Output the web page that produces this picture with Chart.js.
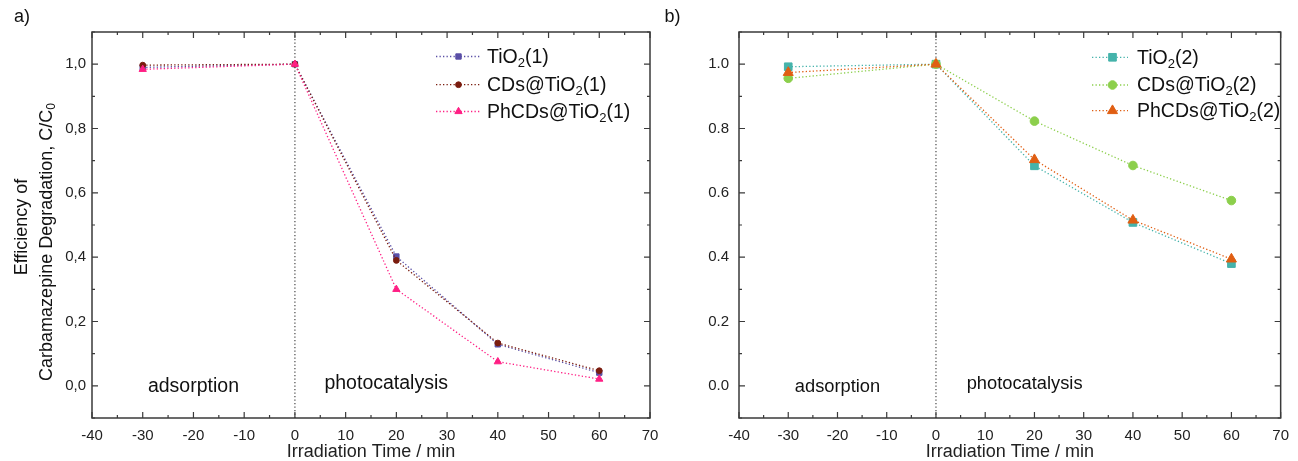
<!DOCTYPE html>
<html><head><meta charset="utf-8">
<script src="https://cdn.jsdelivr.net/npm/chart.js@4.4.1/dist/chart.umd.min.js"></script>
<style>
html,body{margin:0;padding:0;background:#fff;overflow:hidden}
#wrap{position:relative;width:1298px;height:461px;background:#fff}
#ca{position:absolute;left:0;top:0}
#cb{position:absolute;left:655px;top:0}
</style></head><body>
<div id="wrap"><canvas id="ca" width="700" height="461"></canvas><canvas id="cb" width="643" height="461"></canvas></div>
<script>
// ---------- data ----------
const timeMin = [-30, 0, 20, 40, 60];
const xTickValues = [-40, -30, -20, -10, 0, 10, 20, 30, 40, 50, 60, 70];
const yTickValues = [0, 0.2, 0.4, 0.6, 0.8, 1.0];

const seriesNamesA = ['TiO₂(1)', 'CDs@TiO₂(1)', 'PhCDs@TiO₂(1)'];
const tio2_1  = [0.990, 1.0, 0.402, 0.129, 0.041];
const cds_1   = [0.997, 1.0, 0.390, 0.133, 0.047];
const phcds_1 = [0.984, 1.0, 0.300, 0.075, 0.021];

const seriesNamesB = ['TiO₂(2)', 'CDs@TiO₂(2)', 'PhCDs@TiO₂(2)'];
const tio2_2  = [0.992, 1.0, 0.684, 0.508, 0.380];
const cds_2   = [0.956, 1.0, 0.823, 0.685, 0.576];
const phcds_2 = [0.974, 1.0, 0.703, 0.515, 0.394];

const xTitle = 'Irradiation Time / min';
const yTitleLines = ['Efficiency of', 'Carbamazepine Degradation, C/C₀'];
const regionLabels = ['adsorption', 'photocatalysis'];
const panelLabels = ['a)', 'b)'];

// ---------- helpers ----------
const FAMILY = '"Liberation Sans", Arial, Helvetica, sans-serif';
Chart.defaults.font.family = FAMILY;
const SUB = {'₀':'0','₁':'1','₂':'2','₃':'3','₄':'4','₅':'5','₆':'6','₇':'7','₈':'8','₉':'9'};
function drawRich(ctx, text, x, y, size, align) {
  const runs = []; let cur = '', curSub = false;
  for (const ch of text) {
    const s = ch in SUB;
    if (s !== curSub && cur) { runs.push([cur, curSub]); cur = ''; }
    curSub = s; cur += s ? SUB[ch] : ch;
  }
  if (cur) runs.push([cur, curSub]);
  const fMain = size + 'px ' + FAMILY, fSub = Math.round(size * 0.68) + 'px ' + FAMILY;
  let total = 0;
  for (const [t, s] of runs) { ctx.font = s ? fSub : fMain; total += ctx.measureText(t).width; }
  let cx = align === 'center' ? x - total / 2 : (align === 'right' ? x - total : x);
  ctx.textAlign = 'left'; ctx.textBaseline = 'middle';
  for (const [t, s] of runs) {
    ctx.font = s ? fSub : fMain;
    ctx.fillText(t, cx, s ? y + size * 0.3 : y);
    cx += ctx.measureText(t).width;
  }
}

const decorPlugin = {
  id: 'panelDecor',
  beforeDatasetsDraw(chart, args, o) {
    const {ctx, chartArea: a, scales: {x}} = chart;
    const x0 = x.getPixelForValue(0);
    ctx.save();
    ctx.strokeStyle = '#555'; ctx.lineWidth = 1.3; ctx.setLineDash([1.3, 2.2]);
    ctx.beginPath(); ctx.moveTo(x0, a.top); ctx.lineTo(x0, a.bottom); ctx.stroke();
    ctx.restore();
  },
  afterDatasetsDraw(chart, args, o) {
    const {ctx, chartArea: a, scales: {x, y}} = chart;
    ctx.save();
    // frame
    ctx.strokeStyle = '#3a3a3a'; ctx.lineWidth = 1.5; ctx.setLineDash([]);
    ctx.strokeRect(a.left, a.top, a.right - a.left, a.bottom - a.top);
    // ticks (inward)
    ctx.lineWidth = 1.2;
    ctx.beginPath();
    for (let v = -40; v <= 70; v += 5) {
      const px = x.getPixelForValue(v), L = (v % 10 === 0) ? 6 : 3;
      ctx.moveTo(px, a.bottom); ctx.lineTo(px, a.bottom - L);
      ctx.moveTo(px, a.top); ctx.lineTo(px, a.top + L);
    }
    for (let k = -1; k <= 11; k++) {
      const v = k / 10, py = y.getPixelForValue(v), L = (k % 2 === 0) ? 6 : 3;
      ctx.moveTo(a.left, py); ctx.lineTo(a.left + L, py);
      ctx.moveTo(a.right, py); ctx.lineTo(a.right - L, py);
    }
    ctx.stroke();
    // region labels
    ctx.fillStyle = '#111';
    drawRich(ctx, regionLabels[0], x.getPixelForValue(-20), y.getPixelForValue(0) + 1, o.regionSize, 'center');
    drawRich(ctx, regionLabels[1], x.getPixelForValue(18), y.getPixelForValue(0) - 2, o.regionSize, 'center');
    // panel label
    drawRich(ctx, o.panel, o.panelX, 17, 18, 'left');
    // y title
    if (o.yTitle) {
      const mid = (a.top + a.bottom) / 2;
      ctx.save(); ctx.translate(21.7, mid + 2); ctx.rotate(-Math.PI / 2);
      drawRich(ctx, yTitleLines[0], 0, 0, 18, 'center'); ctx.restore();
      ctx.save(); ctx.translate(46.7, mid + 17); ctx.rotate(-Math.PI / 2);
      drawRich(ctx, yTitleLines[1], 0, 0, 18, 'center'); ctx.restore();
    }
    // legend
    const lg = o.legend;
    chart.data.datasets.forEach((ds, i) => {
      const ly = lg.rows[i];
      ctx.save();
      ctx.strokeStyle = ds.borderColor; ctx.lineWidth = ds.borderWidth; ctx.setLineDash(ds.borderDash);
      ctx.beginPath(); ctx.moveTo(lg.x1, ly); ctx.lineTo(lg.x2, ly); ctx.stroke();
      ctx.setLineDash([]);
      ctx.fillStyle = ds.pointBackgroundColor; ctx.strokeStyle = ds.pointBorderColor; ctx.lineWidth = ds.pointBorderWidth;
      Chart.helpers.drawPoint(ctx, {pointStyle: ds.pointStyle, radius: ds.pointRadius, borderWidth: ds.pointBorderWidth, rotation: 0}, lg.xm, ly);
      ctx.restore();
      ctx.fillStyle = '#111';
      drawRich(ctx, ds.label, lg.xt, ly + 1, lg.size, 'left');
    });
    ctx.restore();
  }
};

function mkDataset(label, data, color, style, radius, order) {
  return {
    label, data: timeMin.map((t, i) => ({x: t, y: data[i]})),
    borderColor: color, borderWidth: 1.3, borderDash: [1.3, 2.2],
    pointStyle: style, pointRadius: radius, pointHoverRadius: radius,
    pointBackgroundColor: color, pointBorderColor: color, pointBorderWidth: 1,
    showLine: true, fill: false, tension: 0, order
  };
}

function mkOptions(cfg) {
  return {
    responsive: false, animation: false, devicePixelRatio: 1,
    layout: {padding: {top: 32, right: cfg.padRight, bottom: 0, left: 0}},
    plugins: {legend: {display: false}, tooltip: {enabled: false},
      panelDecor: cfg.decor},
    scales: {
      x: {type: 'linear', min: -40, max: 70,
        afterBuildTicks: s => { s.ticks = xTickValues.map(v => ({value: v})); },
        afterFit: s => { s.height = 43; },
        grid: {display: false, drawTicks: false}, border: {display: false},
        ticks: {padding: 9, color: '#222', font: {size: 15}, maxRotation: 0, callback: v => String(v)},
        title: {display: true, text: xTitle, color: '#222', font: {size: 18, lineHeight: 1}, padding: {top: 0, bottom: 0}}
      },
      y: {type: 'linear', min: -0.1, max: 1.1,
        afterBuildTicks: s => { s.ticks = yTickValues.map(v => ({value: v})); },
        afterFit: s => { s.width = cfg.yWidth; },
        grid: {display: false, drawTicks: false}, border: {display: false},
        ticks: {padding: cfg.yPad, color: '#222', font: {size: 15}, callback: cfg.fmt}
      }
    }
  };
}

new Chart(document.getElementById('ca'), {
  type: 'scatter',
  data: {datasets: [
    mkDataset(seriesNamesA[0], tio2_1, '#5a4fa6', 'rect', 3.8, 3),
    mkDataset(seriesNamesA[1], cds_1, '#7a1c0e', 'circle', 2.9, 2),
    mkDataset(seriesNamesA[2], phcds_1, '#ff1f84', 'triangle', 4.2, 1)
  ]},
  options: mkOptions({padRight: 50, yWidth: 92, yPad: 6,
    fmt: v => Number(v).toFixed(1).replace('.', ','),
    decor: {panel: panelLabels[0], panelX: 14, yTitle: true, regionSize: 19.5,
      legend: {x1: 436, x2: 481, xm: 458.5, xt: 487, rows: [56.5, 84.7, 111.5], size: 19.5}}
  }),
  plugins: [decorPlugin]
});

new Chart(document.getElementById('cb'), {
  type: 'scatter',
  data: {datasets: [
    mkDataset(seriesNamesB[0], tio2_2, '#45b3ab', 'rect', 5.4, 3),
    mkDataset(seriesNamesB[1], cds_2, '#8ccf4c', 'circle', 4.3, 2),
    mkDataset(seriesNamesB[2], phcds_2, '#e05e12', 'triangle', 5.8, 1)
  ]},
  options: mkOptions({padRight: 12.5, yWidth: 84, yPad: 10,
    fmt: v => Number(v).toFixed(1),
    decor: {panel: panelLabels[1], panelX: 9.5, yTitle: false, regionSize: 18.3,
      legend: {x1: 437, x2: 473, xm: 457.5, xt: 482, rows: [57.3, 85, 110.7], size: 19.5}}
  }),
  plugins: [decorPlugin]
});
</script>
</body></html>
